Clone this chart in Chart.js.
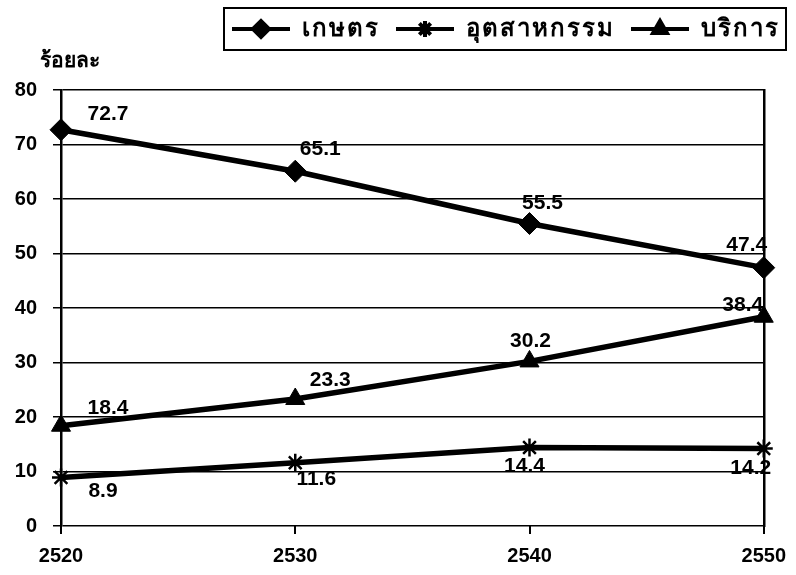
<!DOCTYPE html>
<html>
<head>
<meta charset="utf-8">
<script src="https://cdn.jsdelivr.net/npm/chart.js@4.4.0/dist/chart.umd.min.js"></script>
<style>
  html, body { margin: 0; padding: 0; background: #fff; }
</style>
</head>
<body>
<canvas id="chart" width="796" height="575"></canvas>
<script>
// data
const years = ['2520', '2530', '2540', '2550'];
const agriculture = [72.7, 65.1, 55.5, 47.4];
const industry = [8.9, 11.6, 14.4, 14.2];
const services = [18.4, 23.3, 30.2, 38.4];
const seriesNames = ['เกษตร', 'อุตสาหกรรม', 'บริการ'];
const yTitle = 'ร้อยละ';

// where each value label sits relative to its point (dx, dy)
const labelOffsets = [
  [[47, -16], [25, -22], [13, -20], [-17, -22]],
  [[42, 14], [21, 16], [-5, 19], [-13, 20]],
  [[47, -18], [35, -19], [1, -20], [-21, -12]]
];

const numFamily = '"Liberation Sans", Arial, sans-serif';
const thaiFont = '"Noto Sans", "Liberation Sans", sans-serif';

const styles = ['rectRot', 'star', 'triangle'];
const radii = [11, 9, 11];

// legend icon: a line with the marker on it
function makeIcon(i) {
  const c = document.createElement('canvas');
  c.width = 58; c.height = 24;
  const g = c.getContext('2d');
  g.strokeStyle = '#000';
  g.fillStyle = '#000';
  g.lineWidth = 4;
  g.beginPath(); g.moveTo(0, 12); g.lineTo(58, 12); g.stroke();
  Chart.helpers.drawPoint(g, { pointStyle: styles[i], radius: 8, rotation: 0, borderWidth: 2 }, 29, 12);
  return c;
}
const icons = [0, 1, 2].map(makeIcon);

const valueLabels = {
  id: 'valueLabels',
  afterDatasetsDraw(chart) {
    const ctx = chart.ctx;
    ctx.save();
    ctx.font = 'bold 21px ' + numFamily;
    ctx.fillStyle = '#000';
    ctx.textAlign = 'center';
    ctx.textBaseline = 'middle';
    chart.data.datasets.forEach((ds, di) => {
      chart.getDatasetMeta(di).data.forEach((pt, i) => {
        const o = labelOffsets[di][i];
        ctx.fillText(ds.data[i].toFixed(1), pt.x + o[0], pt.y + o[1]);
      });
    });
    // y axis title
    ctx.font = 'bold 21px ' + thaiFont;
    ctx.textAlign = 'left';
    ctx.fillText(yTitle, 40, chart.chartArea.top - 29);
    ctx.restore();
  }
};

const legendFrame = {
  id: 'legendFrame',
  beforeInit(chart) {
    const lg = chart.legend;
    const fit = lg.fit;
    lg.fit = function () {
      this.ctx.letterSpacing = '2px';
      fit.call(this);
      this.ctx.letterSpacing = '0px';
      this.height = 89;
    };
    const draw = lg.draw;
    lg.draw = function () {
      this.ctx.letterSpacing = '2px';
      draw.call(this);
      this.ctx.letterSpacing = '0px';
    };
  },
  afterDraw(chart) {
    const hb = chart.legend.legendHitBoxes;
    if (!hb || !hb.length) return;
    const left = Math.min(...hb.map(h => h.left)) - 8;
    const right = Math.max(...hb.map(h => h.left + h.width)) + 6;
    const top = hb[0].top - 9;
    const bottom = hb[0].top + hb[0].height + 9;
    const ctx = chart.ctx;
    ctx.save();
    ctx.strokeStyle = '#000';
    ctx.lineWidth = 2;
    ctx.strokeRect(left, top, right - left, bottom - top);
    ctx.restore();
  }
};

function series(i, values) {
  return {
    label: seriesNames[i],
    data: values,
    borderColor: '#000',
    backgroundColor: '#000',
    borderWidth: 5.5,
    tension: 0,
    pointStyle: styles[i],
    pointRadius: radii[i],
    pointHoverRadius: radii[i],
    pointBackgroundColor: '#000',
    pointBorderColor: '#000',
    pointBorderWidth: i === 1 ? 2.5 : 1
  };
}

new Chart(document.getElementById('chart'), {
  type: 'line',
  data: {
    labels: years,
    datasets: [series(0, agriculture), series(1, industry), series(2, services)]
  },
  options: {
    responsive: false,
    animation: false,
    devicePixelRatio: 1,
    layout: { padding: { top: 1, left: 0, right: 0, bottom: 0 } },
    plugins: {
      tooltip: { enabled: false },
      legend: {
        position: 'top',
        align: 'end',
        labels: {
          usePointStyle: true,
          pointStyleWidth: 58,
          padding: 16,
          color: '#000',
          font: { family: thaiFont, size: 24, weight: 'bold' },
          generateLabels: () => seriesNames.map((n, i) => ({
            text: n,
            pointStyle: icons[i],
            fillStyle: '#000',
            strokeStyle: '#000',
            lineWidth: 0,
            fontColor: '#000',
            datasetIndex: i
          }))
        }
      }
    },
    scales: {
      x: {
        offset: false,
        grid: { drawOnChartArea: false, drawTicks: true, tickLength: 8, color: '#000', lineWidth: 2 },
        border: { display: false },
        ticks: { color: '#000', font: { family: numFamily, size: 20, weight: 'bold' }, padding: 10, maxRotation: 0 },
        afterFit: s => { s.height = 49; }
      },
      y: {
        min: 0,
        max: 80,
        ticks: { stepSize: 10, color: '#000', font: { family: numFamily, size: 20, weight: 'bold' }, padding: 16 },
        grid: { color: '#000', lineWidth: 1.5, tickLength: 8 },
        border: { display: true, color: '#000', width: 2.5 },
        afterFit: s => { s.width = 61; }
      },
      y2: {
        position: 'right',
        display: true,
        min: 0,
        max: 80,
        ticks: { display: false },
        grid: { drawOnChartArea: false, drawTicks: false },
        border: { display: true, color: '#000', width: 2.5 },
        afterFit: s => { s.width = 31; }
      }
    }
  },
  plugins: [valueLabels, legendFrame]
});
</script>
</body>
</html>
